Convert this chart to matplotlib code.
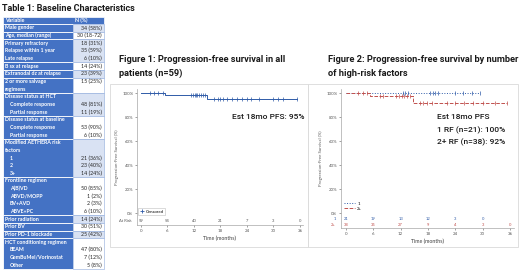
import matplotlib
matplotlib.use("Agg")
import matplotlib.pyplot as plt
import numpy as np
from matplotlib.patches import Rectangle
from matplotlib.lines import Line2D

plt.rcParams['font.family'] = ['Lato', 'DejaVu Sans']
TITLE_FONT = ['Roboto', 'DejaVu Sans']

# ---------------- data ----------------
table_title = "Table 1: Baseline Characteristics"
table_header = ["Variable", "N (%)"]
table_vars = ["Male gender", "Age, median (range)", "Primary refractory", "Relapse within 1 year",
              "Late relapse", "B sx at relapse", "Extranodal dz at relapse", "2 or more salvage",
              "regimens", "Disease status at HCT", "Complete response", "Partial response",
              "Disease status at baseline", "Complete response", "Partial response",
              "Modified AETHERA risk", "factors", "1", "2", "3+", "Frontline regimen", "A(B)VD",
              "ABVD/MOPP", "BV+AVD", "ABVE+PC", "Prior radiation", "Prior BV", "Prior PD-1 blockade",
              "HCT conditioning regimen", "BEAM", "GemBuMel/Vorinostat", "Other"]
table_vals = ["34 (58%)", "30 (18-72)", "18 (31%)", "35 (59%)", "6 (10%)", "14 (24%)", "23 (39%)",
              "15 (25%)", "", "", "48 (81%)", "11 (19%)", "", "53 (90%)", "6 (10%)", "", "",
              "21 (36%)", "23 (40%)", "14 (24%)", "", "50 (85%)", "1 (2%)", "2 (3%)", "6 (10%)",
              "14 (24%)", "30 (51%)", "25 (42%)", "", "47 (80%)", "7 (12%)", "5 (8%)"]
table_group = [0, 1, 2, 2, 2, 3, 4, 5, 5, 6, 6, 6, 7, 7, 7, 8, 8, 8, 8, 8, 9, 9, 9, 9, 9,
               10, 11, 12, 13, 13, 13, 13]
table_indent = [0, 0, 0, 0, 0, 0, 0, 0, 0, 0, 1, 1, 0, 1, 1, 0, 0, 1, 1, 1, 0, 1, 1, 1, 1,
                0, 0, 0, 0, 1, 1, 1]

fig1_title = ["Figure 1: Progression-free survival in all", "patients (n=59)"]
fig2_title = ["Figure 2: Progression-free survival by number", "of high-risk factors"]

# Figure 1: all patients
f1_event_t = [0, 5.5, 15.0]
f1_surv = [100, 98.3, 95.3]
f1_end = 35.3
f1_censor = [2.0, 3.0, 3.8, 4.9, 11.4, 11.8, 12.2, 12.5, 12.8, 13.2, 13.6, 14.0, 14.5,
             16.5, 17.5, 18.0, 18.5, 19.5, 20.6, 21.7, 22.8, 24.0, 25.0, 26.8, 29.8, 31.1, 32.2, 35.3]
f1_risk_t = [0, 6, 12, 18, 24, 30, 36]
f1_risk_n = [59, 54, 40, 21, 7, 3, 0]
f1_note = "Est 18mo PFS: 95%"

# Figure 2: by number of risk factors
g1_event_t = [0]
g1_surv = [100]
g1_end = 29.5
g1_censor = [12.5, 13.0, 13.6, 18.5, 19.1, 19.6, 20.2, 24.0, 25.7, 27.7, 29.5]
g2_event_t = [0, 5.3, 14.7]
g2_surv = [100, 97.4, 92.1]
g2_end = 35.4
g2_censor = [2.6, 3.7, 4.6, 7.5, 8.1, 11.0, 11.6, 12.2, 12.8, 13.4, 14.0,
             16.3, 17.0, 17.8, 18.9, 22.2, 24.0, 26.0, 27.8, 30.0, 32.7, 35.4]
g_labels = ["1", "2+"]
g1_risk_t = [0, 6, 12, 18, 24, 30]
g1_risk_n = [21, 19, 13, 12, 3, 0]
g2_risk_t = [0, 6, 12, 18, 24, 30, 36]
g2_risk_n = [38, 35, 27, 9, 4, 3, 0]
f2_note = ["Est 18mo PFS", "1 RF (n=21): 100%", "2+ RF (n=38): 92%"]

x_ticks = [0, 6, 12, 18, 24, 30, 36]
y_ticks = [0, 20, 40, 60, 80, 100]

BLUE = "#2F5BA8"
RED = "#C0504D"
GREY = "#595959"
TBL_BLUE = "#4472C4"
TBL_BAND = "#D9E2F3"

W, H = 520, 270
fig = plt.figure(figsize=(W / 100, H / 100), dpi=100)

bg = fig.add_axes([0, 0, 1, 1], zorder=0)
bg.set_xlim(0, W)
bg.set_ylim(H, 0)
bg.axis('off')


def px_axes(l, t, r, b):
    return fig.add_axes([l / W, 1 - b / H, (r - l) / W, (b - t) / H], zorder=2)


# ---------------- table ----------------
bg.text(2, 8.5, table_title, fontsize=6.5, fontweight='bold', family=TITLE_FONT, color='#1a1a1a',
        va='center', ha='left')
tx0, tx1, tx2 = 3, 73, 104
top, rh = 16.5, 7.65
bg.add_patch(Rectangle((tx0, top), tx2 - tx0, rh, facecolor=TBL_BLUE, edgecolor='white', lw=0.5))
bg.text(tx0 + 2, top + rh / 2, table_header[0], color='white', fontsize=3.8, fontweight='bold', va='center')
bg.text(tx1 + 2, top + rh / 2, table_header[1], color='white', fontsize=3.8, fontweight='bold', va='center')
groups = sorted(set(table_group))
for g in groups:
    idx = [i for i, gg in enumerate(table_group) if gg == g]
    y0 = top + (idx[0] + 1) * rh
    y1 = top + (idx[-1] + 2) * rh
    bg.add_patch(Rectangle((tx0, y0), tx1 - tx0, y1 - y0, facecolor=TBL_BLUE, edgecolor='white', lw=0.6))
    bg.add_patch(Rectangle((tx1, y0), tx2 - tx1, y1 - y0,
                           facecolor=TBL_BAND if g % 2 == 0 else 'white', edgecolor='#8EAADB', lw=0.4))
for i, (v, n) in enumerate(zip(table_vars, table_vals)):
    yc = top + (i + 1.5) * rh
    bg.text(tx0 + 2 + 5 * table_indent[i], yc, v, color='white', fontsize=3.8, fontweight='bold', va='center')
    if n:
        bg.text(tx2 - 2, yc, n, color='#262626', fontsize=3.8, va='center', ha='right')

# ---------------- panels & titles ----------------
bg.add_patch(Rectangle((110, 84), 198, 163, facecolor='white', edgecolor='#D9D9D9', lw=0.6))
bg.add_patch(Rectangle((308, 84), 210, 163, facecolor='white', edgecolor='#D9D9D9', lw=0.6))
for k, line in enumerate(fig1_title):
    bg.text(119, 60 + 13 * k, line, fontsize=6.7, fontweight='bold', family=TITLE_FONT,
            color='#1a1a1a', va='center')
for k, line in enumerate(fig2_title):
    bg.text(328, 60 + 13 * k, line, fontsize=6.7, fontweight='bold', family=TITLE_FONT,
            color='#1a1a1a', va='center')


def style(ax, ylo):
    ax.set_ylim(ylo, 103.5)
    for s in ['top', 'right']:
        ax.spines[s].set_visible(False)
    for s in ['left', 'bottom']:
        ax.spines[s].set_color('#A6A6A6')
        ax.spines[s].set_linewidth(0.5)
    ax.set_xticks(x_ticks)
    ax.set_xticklabels([str(t) for t in x_ticks])
    ax.set_yticks(y_ticks)
    ax.set_yticklabels([f"{t}%" for t in y_ticks])
    ax.tick_params(labelsize=3.2, colors=GREY, length=1.5, width=0.4, pad=1.2)
    ax.set_xlabel("Time (months)", fontsize=3.8, color='#404040', labelpad=2.5)
    ax.set_ylabel("Progression-Free Survival (%)", fontsize=3.2, color=GREY, labelpad=2)
    ax.patch.set_alpha(0)


def km(ax, times, surv, end, censor, color, ls, label=None):
    t = list(times) + [end]
    s = list(surv) + [surv[-1]]
    ax.step(t, s, where='post', color=color, ls=ls, lw=0.7, label=label)
    cy = [surv[np.searchsorted(times, c, side='right') - 1] for c in censor]
    ax.plot(censor, cy, ls='none', marker='|', ms=3.2, mew=0.5, color=color)


# Figure 1
ax1 = px_axes(137, 89, 303, 225)
style(ax1, -10)
ax1.set_xlim(-0.9, 36.7)
km(ax1, f1_event_t, f1_surv, f1_end, f1_censor, BLUE, '-')
for t, n in zip(f1_risk_t, f1_risk_n):
    ax1.text(t, -6.5, str(n), fontsize=3.0, color=GREY, ha='center', va='center')
ax1.text(-0.035, -6.5, "At Risk", fontsize=3.0, color=GREY, ha='right', va='center',
         transform=ax1.get_yaxis_transform())
ax1.legend(handles=[Line2D([], [], marker='+', ls='none', color=BLUE, ms=3.5, mew=0.6)],
           labels=['Censored'], loc='lower left', bbox_to_anchor=(0.006, 0.07), fontsize=3.2,
           frameon=True, fancybox=False, edgecolor='#BFBFBF', framealpha=1, borderpad=0.35,
           handletextpad=0.3, handlelength=1.0, borderaxespad=0).get_frame().set_linewidth(0.4)
bg.text(232, 117, f1_note, fontsize=6.0, fontweight='medium', family=TITLE_FONT, color='#1a1a1a',
        va='center', ha='left')

# Figure 2
ax2 = px_axes(341, 89, 514, 228)
style(ax2, -12.5)
ax2.set_xlim(-1.1, 36.9)
km(ax2, g1_event_t, g1_surv, g1_end, g1_censor, BLUE, ':', g_labels[0])
km(ax2, g2_event_t, g2_surv, g2_end, g2_censor, RED, '--', g_labels[1])
for t, n in zip(g1_risk_t, g1_risk_n):
    ax2.text(t, -5.3, str(n), fontsize=3.0, color=BLUE, ha='center', va='center')
for t, n in zip(g2_risk_t, g2_risk_n):
    ax2.text(t, -9.8, str(n), fontsize=3.0, color=RED, ha='center', va='center')
ax2.text(-0.03, -5.3, g_labels[0], fontsize=3.0, color=BLUE, ha='right', va='center',
         transform=ax2.get_yaxis_transform())
ax2.text(-0.03, -9.8, g_labels[1], fontsize=3.0, color=RED, ha='right', va='center',
         transform=ax2.get_yaxis_transform())
ax2.legend(loc='lower left', bbox_to_anchor=(0.006, 0.11), fontsize=3.2, frameon=False,
           handlelength=2.6, handletextpad=0.4, labelspacing=0.25, borderaxespad=0)
for k, line in enumerate(f2_note):
    bg.text(437, 117 + 12.8 * k, line, fontsize=6.0, fontweight='medium', family=TITLE_FONT,
            color='#1a1a1a', va='center', ha='left')

fig.savefig("out.png", dpi=100)
